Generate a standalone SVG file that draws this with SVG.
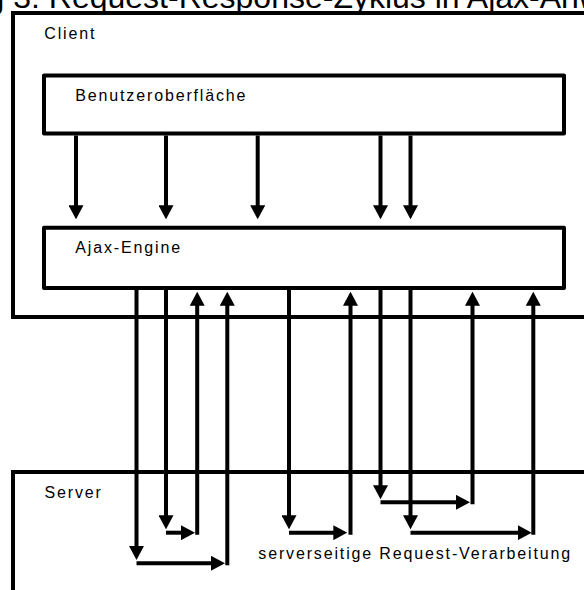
<svg xmlns="http://www.w3.org/2000/svg" width="584" height="590" viewBox="0 0 584 590">
<style>
text{font-family:"Liberation Sans",Arial,sans-serif;fill:#000}
.lbl{font-size:16px;letter-spacing:1.85px}
.title{font-size:32px}
.box{fill:#fff;stroke:#000;stroke-width:4;stroke-linejoin:round}
.area{fill:none;stroke:#000;stroke-width:4}
.c line{stroke:#000;stroke-width:4;marker-end:url(#ah)}
</style>
<defs>
<marker id="ah" markerUnits="userSpaceOnUse" markerWidth="14" markerHeight="15" viewBox="0 0 14 15" refX="7" refY="7.5" orient="auto">
<path d="M0,0 L14,7.5 L0,15 z" fill="#000"/>
</marker>
</defs>
<rect width="584" height="590" fill="#fff"/>
<text class="title" x="-138" y="7.5">Abbildung 3: Request-Response-Zyklus in Ajax-Anwendungen</text>
<g id="client">
<rect class="area" x="13" y="13" width="620" height="304"/>
<text class="lbl" x="44.3" y="39">Client</text>
</g>
<g id="server">
<rect class="area" x="13" y="472" width="620" height="200"/>
<text class="lbl" x="44.5" y="498">Server</text>
</g>
<g id="benutzeroberflaeche">
<rect class="box" x="44" y="75.5" width="520" height="58"/>
<text class="lbl" x="75.3" y="100.7">Benutzeroberfläche</text>
</g>
<g id="ajax-engine">
<rect class="box" x="44" y="227.7" width="520" height="60.3"/>
<text class="lbl" x="75.3" y="253.3">Ajax-Engine</text>
</g>
<g id="connectors" class="c">
<line x1="76" y1="135.5" x2="76" y2="212.3"/>
<line x1="166" y1="135.5" x2="166" y2="212.3"/>
<line x1="257.7" y1="135.5" x2="257.7" y2="212.3"/>
<line x1="380.5" y1="135.5" x2="380.5" y2="212.3"/>
<line x1="410.5" y1="135.5" x2="410.5" y2="212.3"/>

<line x1="136.5" y1="290" x2="136.5" y2="553"/>
<line x1="136.5" y1="563.3" x2="218" y2="563.3"/>
<line x1="227.3" y1="565.3" x2="227.3" y2="298.7"/>

<line x1="166" y1="290" x2="166" y2="522.3"/>
<line x1="166" y1="532.7" x2="188" y2="532.7"/>
<line x1="197.2" y1="534.7" x2="197.2" y2="298.7"/>

<line x1="289" y1="290" x2="289" y2="522.3"/>
<line x1="289" y1="532.7" x2="340.3" y2="532.7"/>
<line x1="350.5" y1="534.7" x2="350.5" y2="298.7"/>

<line x1="380.5" y1="290" x2="380.5" y2="492.3"/>
<line x1="380.5" y1="502.3" x2="463" y2="502.3"/>
<line x1="472.5" y1="504.3" x2="472.5" y2="298.7"/>

<line x1="410.5" y1="290" x2="410.5" y2="522.3"/>
<line x1="410.5" y1="532.7" x2="524.7" y2="532.7"/>
<line x1="533.3" y1="534.7" x2="533.3" y2="298.7"/>
</g>
<text class="lbl" x="258.3" y="559">serverseitige Request-Verarbeitung</text>
</svg>
